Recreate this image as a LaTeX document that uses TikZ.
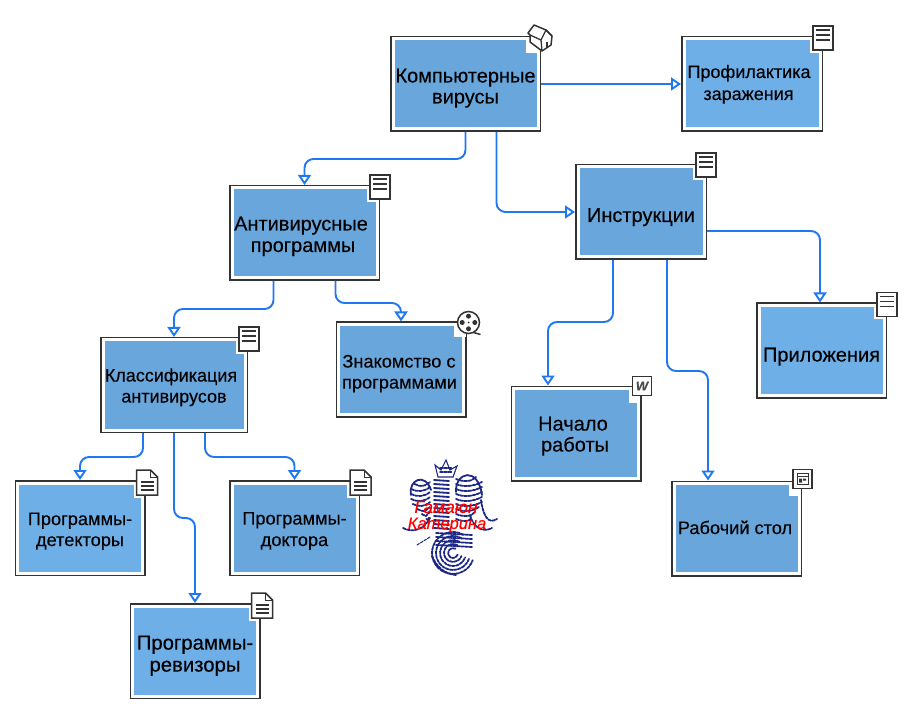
\documentclass[tikz,border=0pt]{standalone}
\usepackage{fontspec}
\setmainfont{Liberation Sans}[FakeBold=0.2]
\usepackage{tikz}
\usetikzlibrary{arrows.meta}
\definecolor{boxblue}{HTML}{69A6DC}
\definecolor{boxlight}{HTML}{6FAFE8}
\definecolor{boxedge}{HTML}{333333}
\definecolor{linkblue}{HTML}{1F77F2}
\definecolor{inkblue}{HTML}{1D2784}
\newcommand{\gl}[2][1pt]{\raisebox{-#1}[.75em][.25em]{#2}}
\tikzset{
  topic/.style={rectangle,fill=boxblue,draw=white,line width=3pt,outer sep=3pt,
    preaction={draw=boxedge,line width=6pt},align=center,text=black,
    minimum width=125pt,minimum height=90pt,inner sep=0pt},
  link/.style={draw=linkblue,line width=1.9pt,rounded corners=9pt,
    -{Triangle[open,length=10pt,width=13pt,line width=1.9pt]}},
  fs/.style={font=\fontsize{#1}{21}\selectfont},
  ink/.style={draw=inkblue,line width=1.8pt,line cap=round},
  feather/.style={ink,dash pattern=on 3pt off 1.2pt},
  iconline/.style={draw=boxedge,line width=1.5pt,fill=white},
  docicon/.pic={
    \fill[white] (-13,3) rectangle (-3,17);
    \draw[iconline] (-10,-10) rectangle (10,14);
    \foreach \y in {-6,-1,4} \draw[boxedge,line width=1.2pt] (-7,\y) -- (7,\y);
  },
  foldicon/.pic={
    \fill[white] (-13,3) rectangle (-3,18);
    \draw[iconline] (-10,-10) -- (4,-10) -- (11,-3) -- (11,15) -- (-10,15) -- cycle;
    \draw[boxedge,line width=1pt] (4,-10) -- (4,-3) -- (11,-3);
    \foreach \y in {2,6,10} \draw[boxedge,line width=1.2pt] (-6,\y) -- (7,\y);
  },
  houseicon/.pic={
    \fill[white] (-15,3) rectangle (-3,17);
    \draw[iconline,line join=round] (-13,-3) -- (-7,-11) -- (5,-6) -- (11,0) -- (10,9) -- (1,15) -- (-11,6) -- (-11,-1) -- cycle;
    \draw[boxedge,line width=1.3pt] (-11,-1) -- (0,4) -- (5,-6) (0,4) -- (1,15) (5,-6) -- (11,0);
    \draw[boxedge,line width=1.6pt] (6,12) -- (6,6);
  },
  reelicon/.pic={
    \fill[white] (-15,3) rectangle (-3,15);
    \draw[iconline] (0,0) circle (11);
    \draw[boxedge,line width=1.5pt] (5,10) -- (12,12);
    \foreach \a in {0,90,180,270} \fill[boxedge] (\a:6.3) circle (2.5);
    \fill[boxedge] (0,0) circle (1);
  },
  wordicon/.pic={
    \fill[white] (-13,3) rectangle (-3,17);
    \draw[iconline] (-9,-9) rectangle (10,10);
    \node[font=\bfseries\itshape\fontsize{13}{13}\selectfont,text=black!70,inner sep=0pt] (w) at (0.5,0.5) {W};
  },
  webicon/.pic={
    \fill[white] (-13,3) rectangle (-3,15);
    \draw[iconline] (-9,-11) rectangle (10,8);
    \draw[boxedge,line width=0.8pt] (-5,-7) rectangle (6,4) (-5,-4) -- (6,-4);
    \fill[boxedge] (-3,-2) rectangle (0,2) (1,-2) rectangle (4,0);
  }
}
\begin{document}
\begin{tikzpicture}[x=1pt,y=-1pt]
\useasboundingbox (0,0) rectangle (905,719);
\node[topic,minimum width=145pt,fs=20] (root) at (465.5,84) {\gl[4pt]{Компьютерные}\\\gl[4pt]{вирусы}};
\node[topic,minimum width=136pt,fill=boxlight,fs=18] (prof) at (752,84) {\gl[0pt]{Профилактика}\kern6pt\\\gl{заражения}\kern7pt};
\node[topic,minimum width=145pt,fs=20] (anti) at (304.5,233) {\gl[3pt]{Антивирусные}\kern7pt\\\gl[3.5pt]{программы}\kern3pt};
\node[topic,minimum width=126pt,fs=20] (instr) at (641,212) {\gl[5pt]{Инструкции}};
\node[topic,fill=boxlight,fs=20] (pril) at (821.5,350.5) {\gl[6pt]{Приложения}};
\node[topic,minimum width=142pt,fs=18] (klass) at (174,385) {\gl[2.5pt]{Классификация}\kern6pt\\\gl[2.5pt]{антивирусов}};
\node[topic,fs=18.2] (znak) at (401,369.5) {\gl[4pt]{Знакомство с}\kern4pt\\\gl[4pt]{программами}\kern3pt};
\node[topic,fs=20] (nach) at (576,433.5) {\gl[2.5pt]{Начало}\kern6pt\\\gl[2.5pt]{работы}\kern2pt};
\node[topic,fs=18.2] (rab) at (736.5,528.5) {\gl{Рабочий стол}\kern3pt};
\node[topic,fill=boxlight,fs=18.2] (det) at (80,528) {\gl[3pt]{Программы-}\\\gl[3pt]{детекторы}};
\node[topic,fs=18.2] (doct) at (294.5,528) {\gl[2.5pt]{Программы-}\\\gl[3pt]{доктора}};
\node[topic,fill=boxlight,fs=20.3] (rev) at (195,651) {\gl[4pt]{Программы-}\\\gl[5pt]{ревизоры}};

\pic at (root.north east) {houseicon};
\pic at (prof.north east) {docicon};
\pic at (anti.north east) {docicon};
\pic at ([xshift=-1pt,yshift=1pt]instr.north east) {docicon};
\pic at (pril.north east) {docicon};
\pic at ([xshift=1pt]klass.north east) {docicon};
\pic at ([xshift=2pt,yshift=-1pt]znak.north east) {reelicon};
\pic at (nach.north east) {wordicon};
\pic at (rab.north east) {webicon};
\pic at ([xshift=1pt]det.north east) {foldicon};
\pic at (doct.north east) {foldicon};
\pic at ([xshift=1pt]rev.north east) {foldicon};

\draw[link] (root.east) -- (prof.west);
\draw[link] (root.south) -- ++(0,27) -| (anti.north);
\draw[link] ([xshift=31pt]root.south) |- (instr.west);
\draw[link] ([xshift=-31pt]anti.south) -- ++(0,28) -| (klass.north);
\draw[link] ([xshift=31pt]anti.south) -- ++(0,22) -| (znak.north);
\draw[link] ([yshift=-19pt]instr.east) -| ([xshift=-1.5pt]pril.north);
\draw[link] ([xshift=-28pt]instr.south) -- ++(0,62) -| ([xshift=-28pt]nach.north);
\draw[link] ([xshift=26pt]instr.south) -- ++(0,111) -| ([xshift=-28.5pt]rab.north);
\draw[link] ([xshift=-31pt]klass.south) -- ++(0,24) -| (det.north);
\draw[link] (klass.south) -- ++(0,85) -| (rev.north);
\draw[link] ([xshift=31pt]klass.south) -- ++(0,24) -| (doct.north);

\draw[ink] (411,495) .. controls (408,480) and (425,472) .. (431,490);
\foreach \y [evaluate=\y as \sx using {411+max(\y-502,0)*0.9+max(487-\y,0)*1.2}] in {484,489,...,519}
  \draw[feather] (\sx,\y) .. controls (\sx+6,\y+3) and (424,\y+3) .. (430,\y-2);
\draw[ink] (456,492) .. controls (455,472) and (478,466) .. (482,495);
\foreach \y [evaluate=\y as \ex using {482-max(\y-505,0)*0.8-max(484-\y,0)*1.2}] in {479,484,...,519}
  \draw[feather] (456,\y) .. controls (463,\y+3) and (472,\y+3) .. (\ex,\y-2);
\foreach \y in {480,484,...,528} \draw[ink] (434,\y) -- (449,\y+1);
\draw[ink,line width=1.1pt] (438,477) -- (435,465) -- (441,470) -- (446,460) -- (450,470) -- (457,466) -- (453,477) -- cycle;
\foreach \y in {468,472} \draw[feather] (440,\y) -- (452,\y);
\draw[feather] (481,500) .. controls (483,515) and (488,525) .. (497,519);
\draw[feather] (470,515) .. controls (474,530) and (485,532) .. (492,528);
\draw[feather] (430,518) .. controls (424,530) and (412,533) .. (403,528);
\draw[feather,line width=1pt] (430,537) -- (417,545);
\foreach \r in {5,9,...,21}
  \draw[feather] ([shift={(453,553)}]300:\r) arc[start angle=300,end angle=20,radius=\r];
\foreach \y in {533,537,...,545} \draw[feather] (436,\y) -- (472,\y+2);
\draw[feather] (432,556) .. controls (436,566) and (444,574) .. (456,575);
\node[text=red,font=\itshape\fontsize{17.5}{17}\selectfont,inner sep=0pt] (name1) at (446,507) {Гамаюн};
\node[text=red,font=\itshape\fontsize{16.5}{16}\selectfont,inner sep=0pt] (name2) at (447,525) {Катерина};
\end{tikzpicture}
\end{document}
